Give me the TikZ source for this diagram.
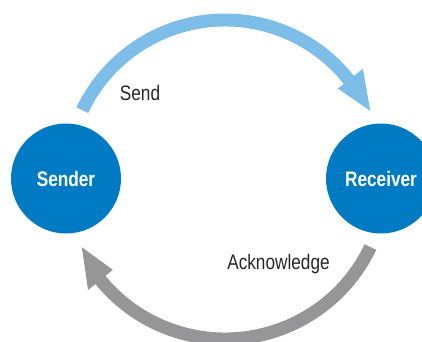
\documentclass[tikz,border=0pt]{standalone}
\usepackage{fontspec}
\setmainfont{Liberation Sans}[FakeStretch=0.82]
\begin{document}
\begin{tikzpicture}[x=1pt,y=1pt]
\definecolor{nodeblue}{RGB}{0,123,195}
\definecolor{sendblue}{RGB}{125,190,233}
\definecolor{ackgray}{RGB}{150,150,152}
\tikzset{
  party/.style={circle, fill=nodeblue, minimum size=110pt, inner sep=0pt,
    text=white, font=\fontsize{21}{25}\selectfont\bfseries},
  lbl/.style={inner sep=0pt, text=black!85, font=\fontsize{21}{25}\selectfont},
}
\clip (0,0) rectangle (422,341);
\coordinate (c) at (225,163);
\node[party] (sender) at (66,162.5) {Sender};
\node[party] (receiver) at (381,162.5) {Receiver};
% Send arrow
\fill[sendblue] ([shift={(c)}]154.6:151.5) arc[start angle=154.6, end angle=38.4, radius=151.5]
  -- ([shift={(c)}]38.4:144) -- ([shift={(c)}]24.8:160) -- ([shift={(c)}]38.4:176)
  -- ([shift={(c)}]38.4:164.5) arc[start angle=38.4, end angle=154.6, radius=164.5] -- cycle;
% Acknowledge arrow
\fill[ackgray] ([shift={(c)}]-25.4:154.5) arc[start angle=-25.4, end angle=-140.7, radius=154.5]
  -- ([shift={(c)}]-140.7:145) -- ([shift={(c)}]-154.2:159) -- ([shift={(c)}]-140.7:177)
  -- ([shift={(c)}]-140.7:167.5) arc[start angle=-140.7, end angle=-25.4, radius=167.5] -- cycle;
\node[lbl, anchor=base] (send) at (140,241) {Send};
\node[lbl, anchor=base] (ack) at (278.5,72) {Acknowledge};
\end{tikzpicture}
\end{document}
